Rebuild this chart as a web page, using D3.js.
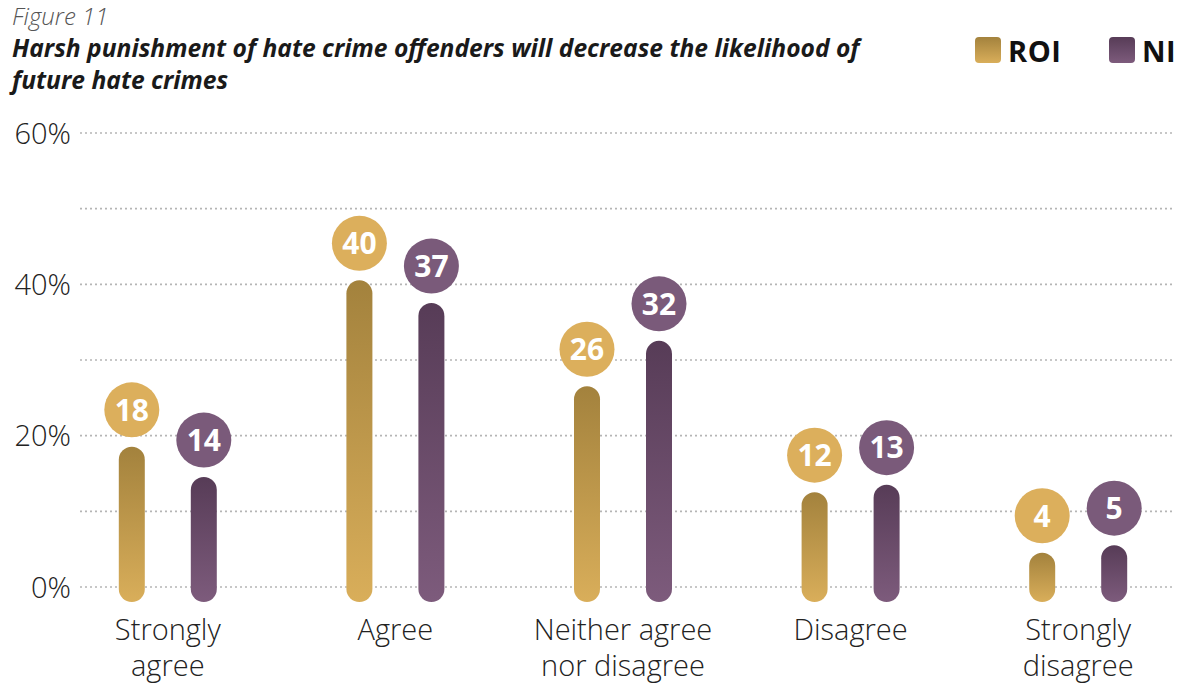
<!DOCTYPE html>
<html>
<head>
<meta charset="utf-8">
<script src="https://cdn.jsdelivr.net/npm/d3@7"></script>
<style>
  html, body { margin: 0; padding: 0; background: #fff; }
  svg { display: block; }
</style>
</head>
<body>
<svg id="chart" width="1191" height="687"></svg>
<script>
// Survey responses (% of respondents)
const categories = [
  ["Strongly", "agree"],
  ["Agree"],
  ["Neither agree", "nor disagree"],
  ["Disagree"],
  ["Strongly", "disagree"]
];
const seriesNames = ["ROI", "NI"];
const roiValues = [18, 40, 26, 12, 4];
const niValues = [14, 37, 32, 13, 5];
const tickValues = [0, 20, 40, 60];
const gridValues = [0, 10, 20, 30, 40, 50, 60];

const svg = d3.select("#chart");
const fontFam = "'Open Sans', 'Noto Sans', sans-serif";

const colors = {
  ROI: { top: "#a3823d", bottom: "#d9ae5a", dot: "#dcaf5c" },
  NI:  { top: "#573c57", bottom: "#7d5b7c", dot: "#7a5a7a" }
};

// vertical gradients for bars and legend swatches
const defs = svg.append("defs");
seriesNames.forEach(s => {
  const g = defs.append("linearGradient")
    .attr("id", "grad-" + s)
    .attr("x1", 0).attr("y1", 0).attr("x2", 0).attr("y2", 1);
  g.append("stop").attr("offset", "0%").attr("stop-color", colors[s].top);
  g.append("stop").attr("offset", "100%").attr("stop-color", colors[s].bottom);
});

const y = d3.scaleLinear().domain([0, 60]).range([587, 133]);
const x = d3.scaleBand().domain(d3.range(categories.length)).range([54, 1192]).padding(0);
const xSeries = d3.scalePoint().domain(seriesNames).range([-36, 36]);

// title block
svg.append("text")
  .attr("x", 12).attr("y", 25)
  .attr("font-family", fontFam).attr("font-style", "italic").attr("font-weight", 300)
  .attr("font-size", 24).attr("fill", "#555")
  .text("Figure 11");
const titleLines = [
  "Harsh punishment of hate crime offenders will decrease the likelihood of",
  "future hate crimes"
];
svg.append("g").selectAll("text").data(titleLines).join("text")
  .attr("x", 12).attr("y", (d, i) => 57 + i * 32)
  .attr("font-family", fontFam).attr("font-style", "italic").attr("font-weight", 700)
  .attr("font-size", 24.6).attr("fill", "#1a1a1a")
  .text(d => d);

// legend
const legendX = { ROI: 975, NI: 1109 };
const legend = svg.append("g");
seriesNames.forEach(s => {
  legend.append("rect")
    .attr("x", legendX[s]).attr("y", 37).attr("width", 26).attr("height", 26)
    .attr("rx", 4).attr("fill", `url(#grad-${s})`);
  legend.append("text")
    .attr("x", legendX[s] + 33).attr("y", 62)
    .attr("font-family", fontFam).attr("font-weight", 700)
    .attr("font-size", 29).attr("letter-spacing", 0.5).attr("fill", "#111")
    .text(s);
});

// gridlines
svg.append("g").selectAll("line").data(gridValues).join("line")
  .attr("x1", 80).attr("x2", 1172)
  .attr("y1", d => y(d)).attr("y2", d => y(d))
  .attr("stroke", "#b5b5b5").attr("stroke-width", 1.6)
  .attr("stroke-dasharray", "2,3");

// y axis labels
const yAxis = d3.axisLeft(y).tickValues(tickValues).tickSize(0).tickPadding(0)
  .tickFormat(d => d + "%");
const yg = svg.append("g").attr("transform", "translate(71,0)").call(yAxis);
yg.select(".domain").remove();
yg.selectAll("text")
  .attr("font-family", fontFam).attr("font-weight", 300)
  .attr("font-size", 29).attr("fill", "#222").attr("dy", "0.35em");

// bars + value dots
const data = [];
categories.forEach((c, i) => {
  data.push({ i, s: "ROI", v: roiValues[i] });
  data.push({ i, s: "NI", v: niValues[i] });
});
const barW = 26;
const plot = svg.append("g");
const groups = plot.selectAll("g.bar").data(data).join("g").attr("class", "bar")
  .attr("transform", d => `translate(${x(d.i) + x.bandwidth() / 2 + xSeries(d.s)},0)`);

groups.append("rect")
  .attr("x", -barW / 2)
  .attr("y", d => y(d.v) - 4)
  .attr("width", barW)
  .attr("height", d => y(0) + 15 - (y(d.v) - 4))
  .attr("rx", barW / 2)
  .attr("fill", d => `url(#grad-${d.s})`);

groups.append("circle")
  .attr("cx", 0).attr("cy", d => y(d.v) - 41)
  .attr("r", 27.5)
  .attr("fill", d => colors[d.s].dot);

groups.append("text")
  .attr("x", 0).attr("y", d => y(d.v) - 41)
  .attr("dy", "0.36em").attr("text-anchor", "middle")
  .attr("font-family", fontFam).attr("font-weight", 700)
  .attr("font-size", 30).attr("fill", "#fff")
  .text(d => d.v);

// category labels
const catG = svg.append("g").selectAll("text").data(categories).join("text")
  .attr("text-anchor", "middle")
  .attr("font-family", fontFam).attr("font-weight", 300)
  .attr("font-size", 29).attr("fill", "#222");
catG.selectAll("tspan").data((d, i) => d.map(t => ({ t, i }))).join("tspan")
  .attr("x", d => x(d.i) + x.bandwidth() / 2)
  .attr("y", (d, j) => 640 + j * 36)
  .text(d => d.t);
</script>
</body>
</html>
